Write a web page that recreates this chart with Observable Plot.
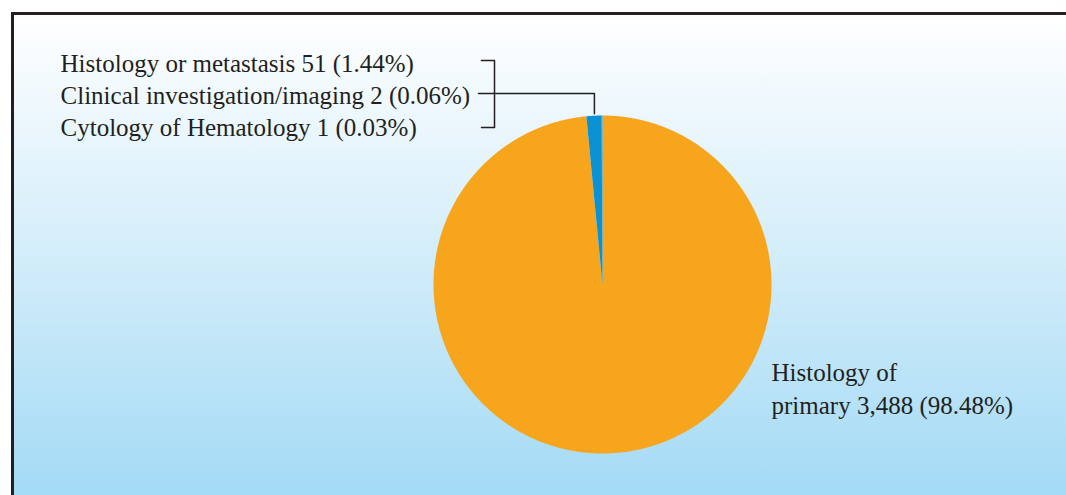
<!DOCTYPE html>
<html>
<head>
<meta charset="utf-8">
<script src="https://cdn.jsdelivr.net/npm/d3@7"></script>
<script src="https://cdn.jsdelivr.net/npm/@observablehq/plot@0.6"></script>
<style>
  html, body { margin: 0; padding: 0; background: #ffffff; }
  #wrap { position: relative; width: 1066px; height: 495px; overflow: hidden; background: #ffffff; }
  #panel { position: absolute; left: 11px; top: 12px; width: 1100px; height: 500px;
           border-left: 3px solid #231f20; border-top: 3px solid #231f20;
           background: linear-gradient(to bottom, #ffffff 0px, #d3edfa 240px, #a3daf5 480px); }
  #chart { position: absolute; left: 0; top: 0; }
</style>
</head>
<body>
<div id="wrap"><div id="panel"></div><div id="chart"></div></div>
<script>
// ---- data ----
const categories = ["Histology of primary", "Histology or metastasis", "Clinical investigation/imaging", "Cytology of Hematology"];
const counts = [3488, 51, 2, 1];
const percentLabels = ["98.48%", "1.44%", "0.06%", "0.03%"];
const countLabels = ["3,488", "51", "2", "1"];
const sliceColors = ["#f6a51d", "#0b92d5", "#0b92d5", "#0b92d5"];

const data = categories.map((c, i) => ({category: c, count: counts[i], color: sliceColors[i]}));
const arcs = d3.pie().sort(null).value(d => d.count)(data);

// polygon points for each slice (unit radius, centre 0,0; angle 0 = 12 o'clock, clockwise)
const slicePts = [];
arcs.forEach(a => {
  const key = a.data.category;
  slicePts.push({key, color: a.data.color, x: 0, y: 0});
  const n = Math.max(2, Math.ceil((a.endAngle - a.startAngle) / 0.005));
  for (let k = 0; k <= n; k++) {
    const t = a.startAngle + (a.endAngle - a.startAngle) * k / n;
    slicePts.push({key, color: a.data.color, x: Math.sin(t), y: Math.cos(t)});
  }
  slicePts.push({key, color: a.data.color, x: 0, y: 0});
});

// small slices group (everything after the primary)
const small = arcs.slice(1);
const midSmall = (small[0].startAngle + small[small.length - 1].endAngle) / 2;
const tipX = Math.sin(midSmall), tipY = Math.cos(midSmall) + 0.012;

// label layout (in pie-radius units)
const leftX = -3.207;
const rowY = [1.302, 1.115, 0.926];
const leftLabels = categories.slice(1).map((c, i) => ({
  text: `${c} ${countLabels[i + 1]} (${percentLabels[i + 1]})`, x: leftX, y: rowY[i]
}));
const rightLabels = [
  {text: "Histology of", x: 1.0, y: -0.521},
  {text: `primary ${countLabels[0]} (${percentLabels[0]})`, x: 1.0, y: -0.716}
];
const bx0 = -0.716, bx1 = -0.639, elbowY = 1.13;
const bracket = [
  {x: bx0, y: 1.325}, {x: bx1, y: 1.325}, {x: bx1, y: 0.929}, {x: bx0, y: 0.929}
];
const connector = [
  {x: -0.734, y: elbowY}, {x: tipX, y: elbowY}, {x: tipX, y: tipY}
];

const plot = Plot.plot({
  width: 1066,
  height: 495,
  margin: 0,
  style: {background: "none", overflow: "visible"},
  x: {domain: [-1, 1], range: [433, 771], axis: null},
  y: {domain: [-1, 1], range: [453, 115], axis: null},
  color: {type: "identity"},
  marks: [
    Plot.line(slicePts, {x: "x", y: "y", z: "key", fill: "color", stroke: "none", curve: "linear"}),
    Plot.line(bracket, {x: "x", y: "y", stroke: "#231f20", strokeWidth: 1.5}),
    Plot.line(connector, {x: "x", y: "y", stroke: "#231f20", strokeWidth: 1.5}),
    Plot.text(leftLabels, {x: "x", y: "y", text: "text", textAnchor: "start", fill: "#231f20",
      fontSize: 25, fontFamily: "Liberation Serif"}),
    Plot.text(rightLabels, {x: "x", y: "y", text: "text", textAnchor: "start", fill: "#231f20",
      fontSize: 25, fontFamily: "Liberation Serif"})
  ]
});
document.getElementById("chart").appendChild(plot);
</script>
</body>
</html>
